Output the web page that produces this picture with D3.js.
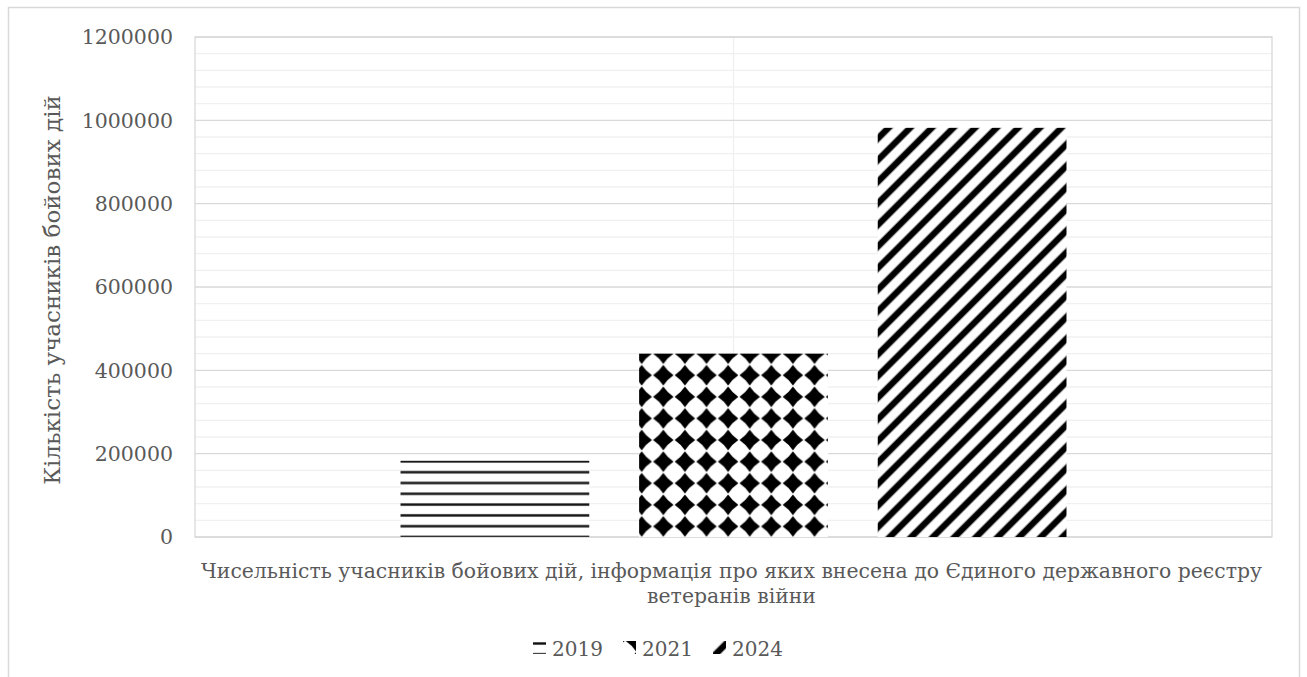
<!DOCTYPE html>
<html>
<head>
<meta charset="utf-8">
<script src="https://cdn.jsdelivr.net/npm/d3@7"></script>
<style>
  html, body { margin: 0; padding: 0; background: #fff; }
  svg { display: block; }
  text { font-family: "DejaVu Serif", serif; fill: #595959; }
</style>
</head>
<body>
<svg id="chart" width="1307" height="677"></svg>
<script>
// ---- data ----
const categories = ["Чисельність учасників бойових дій, інформація про яких внесена до Єдиного державного реєстру ветеранів війни"];
const categoryLines = ["Чисельність учасників бойових дій, інформація про яких внесена до Єдиного державного реєстру", "ветеранів війни"];
const seriesNames = ["2019", "2021", "2024"];
const seriesValues = [183000, 440000, 982000];
const yTicks = [0, 200000, 400000, 600000, 800000, 1000000, 1200000];
const yTitle = "Кількість учасників бойових дій";

// ---- layout ----
const plot = { left: 195, top: 37, right: 1272, bottom: 537 };
const svg = d3.select("#chart");
const defs = svg.append("defs");

// chart area border
svg.append("rect").attr("x", 8.5).attr("y", 7.5).attr("width", 1291).attr("height", 700)
  .attr("fill", "#fff").attr("stroke", "#d9d9d9").attr("stroke-width", 1.5);

const y = d3.scaleLinear().domain([0, 1200000]).range([plot.bottom, plot.top]);
const x0 = d3.scaleBand().domain(categories).range([plot.left, plot.right]).paddingInner(0).paddingOuter(0.3086);
const x1 = d3.scaleBand().domain(seriesNames).range([0, x0.bandwidth()]).paddingInner(0.209).paddingOuter(0);

// minor gridlines
const minor = d3.range(0, 1200001, 40000).filter(v => v % 200000 !== 0);
svg.append("g").selectAll("line").data(minor).join("line")
  .attr("x1", plot.left).attr("x2", plot.right)
  .attr("y1", d => y(d)).attr("y2", d => y(d))
  .attr("stroke", "#f0f0f0").attr("stroke-width", 1.3);
// vertical light line at category center
svg.append("line")
  .attr("x1", x0(categories[0]) + x0.bandwidth() / 2).attr("x2", x0(categories[0]) + x0.bandwidth() / 2)
  .attr("y1", plot.top).attr("y2", plot.bottom)
  .attr("stroke", "#f0f0f0").attr("stroke-width", 1.3);
// major gridlines
svg.append("g").selectAll("line").data(yTicks).join("line")
  .attr("x1", plot.left).attr("x2", plot.right)
  .attr("y1", d => y(d)).attr("y2", d => y(d))
  .attr("stroke", "#d9d9d9").attr("stroke-width", 1.3);
// plot area border
svg.append("rect").attr("x", plot.left).attr("y", plot.top)
  .attr("width", plot.right - plot.left).attr("height", plot.bottom - plot.top)
  .attr("fill", "none").attr("stroke", "#d9d9d9").attr("stroke-width", 1.3);

// ---- patterns ----
const P = 21.6;
function makePattern(id, kind, ox, oy) {
  if (kind === "2019") {
    const ph = P / 2;
    const p = defs.append("pattern").attr("id", id).attr("patternUnits", "userSpaceOnUse")
      .attr("x", ox).attr("y", oy - ph / 2).attr("width", P).attr("height", ph);
    p.append("rect").attr("width", P).attr("height", ph).attr("fill", "#fff");
    p.append("rect").attr("y", ph / 2 - 1.5).attr("width", P).attr("height", 3).attr("fill", "#9a9a9a");
    p.append("rect").attr("y", ph / 2 - 1).attr("width", P).attr("height", 2).attr("fill", "#111");
  } else if (kind === "2021") {
    const p = defs.append("pattern").attr("id", id).attr("patternUnits", "userSpaceOnUse")
      .attr("x", ox - P / 2).attr("y", oy - P / 2).attr("width", P).attr("height", P);
    p.append("rect").attr("width", P).attr("height", P).attr("fill", "#fff");
    const h = P / 2, m = P / 4, c = 1.3; // edge midpoints pulled slightly inward
    p.append("path").attr("fill", "#000")
      .attr("d", `M${h},0.6 Q${h + m - c},${m + c} ${P - 0.6},${h} Q${h + m - c},${h + m - c} ${h},${P - 0.6} Q${m + c},${h + m - c} 0.6,${h} Q${m + c},${m + c} ${h},0.6Z`);
  } else {
    const q = P / Math.SQRT2;
    const p = defs.append("pattern").attr("id", id).attr("patternUnits", "userSpaceOnUse")
      .attr("x", ox).attr("y", oy).attr("width", q).attr("height", q)
      .attr("patternTransform", `rotate(-45 ${ox} ${oy})`);
    p.append("rect").attr("width", q).attr("height", q).attr("fill", "#fff");
    p.append("rect").attr("y", q / 2 - 3.6).attr("width", q).attr("height", 7.2).attr("fill", "#888");
    p.append("rect").attr("y", q / 2 - 2.8).attr("width", q).attr("height", 5.6).attr("fill", "#000");
  }
}

// ---- bars ----
const bars = seriesNames.map((s, i) => ({ s, v: seriesValues[i], i }));
bars.forEach(d => {
  const bx = x0(categories[0]) + x1(d.s);
  const by = y(d.v);
  const oy = d.s === "2019" ? y(0) : by;
  makePattern("pat" + d.s, d.s, d.s === "2021" ? bx + 2.6 : bx, oy);
});
svg.append("g").selectAll("rect").data(bars).join("rect")
  .attr("x", d => x0(categories[0]) + x1(d.s))
  .attr("y", d => y(d.v))
  .attr("width", x1.bandwidth())
  .attr("height", d => y(0) - y(d.v))
  .attr("fill", d => `url(#pat${d.s})`);

// ---- y axis labels ----
svg.append("g").selectAll("text").data(yTicks).join("text")
  .attr("x", 173).attr("y", d => y(d)).attr("dy", "0.36em")
  .attr("text-anchor", "end").style("font-size", "20.5px")
  .text(d => d3.format("d")(d));

// y title
const yt = svg.append("text")
  .attr("transform", `translate(60,${(plot.top + plot.bottom) / 2 + 3}) rotate(-90)`)
  .attr("text-anchor", "middle").style("font-size", "22px").text(yTitle);
let ytw = yt.node().getComputedTextLength();
yt.style("font-size", (22 * 390 / ytw) + "px");

// x category label (two lines)
const xc = x0(categories[0]) + x0.bandwidth() / 2 - 2;
const xl = svg.append("g");
const l1 = xl.append("text").attr("x", xc).attr("y", 578).attr("text-anchor", "middle")
  .style("font-size", "20px").text(categoryLines[0]);
const w1 = l1.node().getComputedTextLength();
const fs = 20 * 1062 / w1;
l1.style("font-size", fs + "px");
xl.append("text").attr("x", xc).attr("y", 603).attr("text-anchor", "middle")
  .style("font-size", fs + "px").text(categoryLines[1]);

// ---- legend ----
const legX = [533, 623, 713];
const leg = svg.append("g");
seriesNames.forEach((s, i) => {
  const sx = legX[i], sy = 641;
  if (s === "2019") makePattern("leg" + s, s, sx, sy + 2.5);
  else if (s === "2021") makePattern("leg" + s, s, sx + 13, sy);
  else makePattern("leg" + s, s, sx + 3, sy + 2);
  leg.append("rect").attr("x", sx).attr("y", sy).attr("width", 13).attr("height", 13)
    .attr("fill", `url(#leg${s})`);
  leg.append("text").attr("x", sx + 19).attr("y", 656)
    .style("font-size", "20px").text(s);
});
</script>
</body>
</html>
